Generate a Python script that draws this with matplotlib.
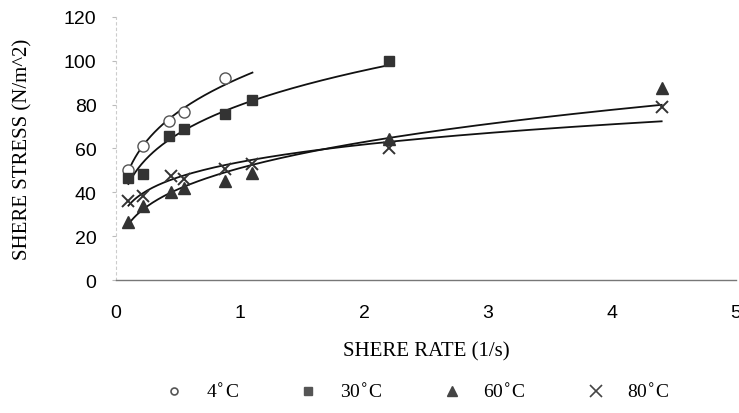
import numpy as np
import matplotlib
matplotlib.use("Agg")
import matplotlib.pyplot as plt
from matplotlib.lines import Line2D

# Data
x_4 = [0.1, 0.22, 0.43, 0.55, 0.88]
y_4 = [50.4, 61.3, 72.3, 76.6, 92.0]
x_30 = [0.1, 0.22, 0.43, 0.55, 0.88, 1.1, 2.2]
y_30 = [46.6, 48.5, 65.9, 69.0, 75.8, 82.0, 99.7]
x_60 = [0.1, 0.22, 0.44, 0.55, 0.88, 1.1, 2.2, 4.4]
y_60 = [26.3, 33.6, 40.3, 42.0, 45.3, 48.9, 64.4, 87.5]
x_80 = [0.1, 0.22, 0.44, 0.55, 0.88, 1.1, 2.2, 4.4]
y_80 = [36.0, 38.5, 47.3, 46.0, 50.7, 53.0, 60.3, 78.9]
fit_end_4 = 1.1
labels = ["4$^{\\circ}$C", "30$^{\\circ}$C", "60$^{\\circ}$C", "80$^{\\circ}$C"]
xticks = [0, 1, 2, 3, 4, 5]
yticks = [0, 20, 40, 60, 80, 100, 120]

fig = plt.figure(figsize=(7.39, 4.14), dpi=100)
ax = fig.add_axes([0.157, 0.321, 0.839, 0.636])

mc = "#333333"
series = [
    (x_4, y_4, dict(marker="o", mfc="white", mec="#555555", ms=8, mew=1.0), fit_end_4),
    (x_30, y_30, dict(marker="s", mfc=mc, mec=mc, ms=7.5), None),
    (x_60, y_60, dict(marker="^", mfc=mc, mec=mc, ms=8.5), None),
    (x_80, y_80, dict(marker="x", mfc=mc, mec=mc, ms=9, mew=1.4), None),
]
for xs, ys, st, xend in series:
    xs = np.array(xs); ys = np.array(ys)
    b, la = np.polyfit(np.log(xs), np.log(ys), 1)
    x1 = xend if xend is not None else xs.max()
    xf = np.linspace(xs.min(), x1, 200)
    ax.plot(xf, np.exp(la) * xf ** b, color="#111111", lw=1.3, zorder=2)
    ax.plot(xs, ys, ls="none", zorder=3, **st)

ax.set_xlim(0, 5)
ax.set_ylim(0, 120)
ax.set_xticks(xticks)
ax.set_yticks(yticks)
for s in ["top", "right"]:
    ax.spines[s].set_visible(False)
ax.spines["left"].set_color("#cccccc")
ax.spines["left"].set_linestyle((0, (2, 3)))
ax.spines["left"].set_linewidth(0.8)
ax.spines["bottom"].set_color("#777777")
ax.spines["bottom"].set_linewidth(1.0)
ax.tick_params(axis="both", length=3, color="#bbbbbb", labelsize=14,
               labelfontfamily="Liberation Sans")
ax.tick_params(axis="x", length=0, pad=17)
ax.tick_params(axis="y", pad=11)

ax.set_xlabel("SHERE RATE (1/s)", family="Liberation Serif", fontsize=15, labelpad=15)
ax.set_ylabel("SHERE STRESS (N/m^2)", family="Liberation Serif", fontsize=15)
ax.yaxis.set_label_coords(-0.135, 0.5)

handles = [
    Line2D([], [], ls="none", marker="o", mfc="white", mec="#555555", ms=5, mew=1.2),
    Line2D([], [], ls="none", marker="s", mfc="#555555", mec="#555555", ms=6),
    Line2D([], [], ls="none", marker="^", mfc="#444444", mec="#444444", ms=7),
    Line2D([], [], ls="none", marker="x", mec="#444444", ms=8, mew=1.2),
]
fig.legend(handles, labels, loc="center", bbox_to_anchor=(0.558, 0.05), ncol=4,
           frameon=False, prop={"family": "Liberation Serif", "size": 14},
           columnspacing=2.6, handletextpad=0.6)

fig.savefig("out.png", dpi=100)
